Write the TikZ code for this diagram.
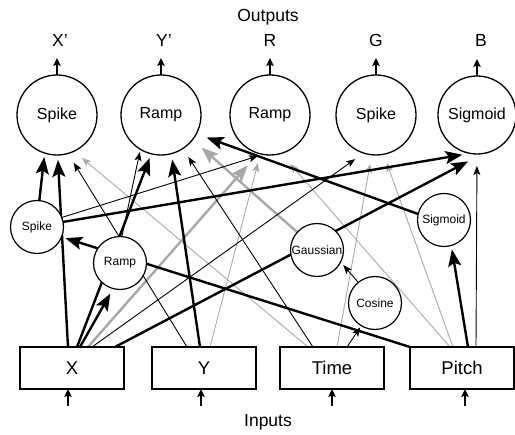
\documentclass[tikz,border=0pt]{standalone}
\usepackage{fontspec}
\setmainfont{Liberation Sans}
\usetikzlibrary{arrows.meta,backgrounds}
\definecolor{lg}{gray}{0.66}
\begin{document}
\begin{tikzpicture}[x=1pt,y=-1pt,
  outc/.style={circle,draw,line width=1.3pt,fill=white,minimum size=80pt,inner sep=0pt,outer sep=0pt,font=\fontsize{16}{19}\selectfont},
  hidc/.style={circle,draw,line width=1.2pt,fill=white,minimum size=53pt,inner sep=0pt,outer sep=0pt,font=\fontsize{12}{14}\selectfont},
  inbox/.style={rectangle,draw,line width=1.9pt,fill=white,minimum width=104pt,minimum height=42pt,inner sep=0pt,outer sep=0pt,font=\fontsize{18.5}{21}\selectfont},
  lbl/.style={font=\fontsize{17.5}{20}\selectfont,inner sep=0pt,anchor=base},
  bthin/.style={line width=0.9pt,-{Stealth[length=9pt,width=7pt,inset=2pt]}},
  bthick/.style={line width=2.4pt,-{Stealth[length=17pt,width=13pt,inset=3.5pt]}},
  gthin/.style={color=lg,line width=0.9pt,-{Stealth[length=9pt,width=7pt,inset=2pt]}},
  gthick/.style={color=lg,line width=2.4pt,-{Stealth[length=17pt,width=13pt,inset=3.5pt]}},
  sarrow/.style={line width=1.1pt,-{Stealth[length=8pt,width=7.5pt,inset=1.5pt]}}
]
\useasboundingbox (0,0) rectangle (515,435);
% output nodes
\node[outc] (out1) at (57,115) {Spike};
\node[outc] (out2) at (161,115) {Ramp};
\node[outc] (out3) at (270,115) {Ramp};
\node[outc] (out4) at (376,115) {Spike};
\node[outc,minimum size=78pt] (out5) at (477,115) {Sigmoid};
% hidden nodes
\node[hidc] (hs) at (37,227) {Spike};
\node[hidc] (hr) at (120,263) {Ramp};
\node[hidc] (hg) at (317,250) {Gaussian};
\node[hidc] (hc) at (375,303) {Cosine};
\node[hidc] (hsg) at (444,220) {Sigmoid};
% input boxes
\node[inbox] (X) at (72,368) {X};
\node[inbox] (Y) at (204,368) {Y};
\node[inbox] (Time) at (332,368) {Time};
\node[inbox] (Pitch) at (462,368) {Pitch};
% labels
\node[lbl] (outs) at (268,22) {Outputs};
\node[lbl] (ins) at (268,427) {Inputs};
\node[lbl] (lX) at (60,47) {X'};
\node[lbl] (lY) at (164,47) {Y'};
\node[lbl] (lR) at (270,47) {R};
\node[lbl] (lG) at (376,47) {G};
\node[lbl] (lB) at (481,47) {B};
% output and input arrows
\draw[sarrow] (out1.north) -- ++(0,-17);
\draw[sarrow] (out2.north) -- ++(0,-17);
\draw[sarrow] (out3.north) -- ++(0,-17);
\draw[sarrow] (out4.north) -- ++(0,-17);
\draw[sarrow] (out5.north) -- ++(0,-17);
\draw[sarrow] ([xshift=-4pt,yshift=-17pt]X.south) -- ([xshift=-4pt]X.south);
\draw[sarrow] ([xshift=-3pt,yshift=-17pt]Y.south) -- ([xshift=-3pt]Y.south);
\draw[sarrow] ([yshift=-17pt]Time.south) -- (Time.south);
\draw[sarrow] ([xshift=3pt,yshift=-17pt]Pitch.south) -- ([xshift=3pt]Pitch.south);
\begin{pgfonlayer}{background}
% gray connectors
\draw[gthin,shorten >=10.5pt] ([xshift=-24pt]Time.north) -- (out1.-65);
\draw[gthin,shorten >=9.5pt] ([xshift=6pt]Y.north) -- (out3.-104);
\draw[gthin,shorten >=14pt] ([xshift=-12pt]Pitch.north) -- (out3.-74);
\draw[gthin,shorten >=9.4pt] ([xshift=5pt]Time.north) -- (out4.-96);
\draw[gthin,shorten >=9.3pt] ([xshift=-9pt]Pitch.north) -- (out4.-79);
\draw[gthick,shorten >=16pt] ([xshift=16pt]X.north) -- (out3.-107);
\draw[gthick,shorten >=12pt] (hg.138) -- (out2.-38);
% thin black connectors
\draw[bthin,shorten >=11pt] ([xshift=-17pt]Y.north) -- (out1.-74);
\draw[bthin,shorten >=2.7pt] (hr.86) -- (out2.-121);
\draw[bthin,shorten >=10pt] ([xshift=-19pt]Time.north) -- (out2.-57);
\draw[bthin,shorten >=5.3pt] (hs.21) -- (out3.-100);
\draw[bthin,shorten >=10.4pt] ([xshift=20pt]X.north) -- (out4.-108);
\draw[bthin,shorten >=12pt] ([xshift=14pt]Pitch.north) -- (out5.-90);
\draw[bthin,shorten >=2pt] ([xshift=15pt]Time.north) -- (hc.-121);
\draw[bthin,shorten >=4pt] (hc.129) -- (hg.-27);
% thick black connectors
\draw[bthick,shorten >=4pt] (hs.85) -- (out1.-108);
\draw[bthick,shorten >=5pt] ([xshift=-4pt]X.north) -- (out1.-89);
\draw[bthick,shorten >=4.4pt] ([xshift=5pt]X.north) -- (out2.-104);
\draw[bthick,shorten >=6pt] ([xshift=-4pt]Y.north) -- (out2.-75);
\draw[bthick,shorten >=11pt] (hsg.167) -- (out2.-28.5);
\draw[bthick,shorten >=8pt] (hs.11) -- (out5.-100);
\draw[bthick,shorten >=17pt] ([xshift=43pt]X.north) -- (out5.-81);
\draw[bthick,shorten >=4pt] (Pitch.north west) -- (hs.-22);
\draw[bthick,shorten >=5.7pt] ([xshift=8pt]X.north) -- (hr.-105);
\draw[bthick,shorten >=4pt] ([xshift=6pt]Pitch.north) -- (hsg.-74);
\end{pgfonlayer}
\end{tikzpicture}
\end{document}
